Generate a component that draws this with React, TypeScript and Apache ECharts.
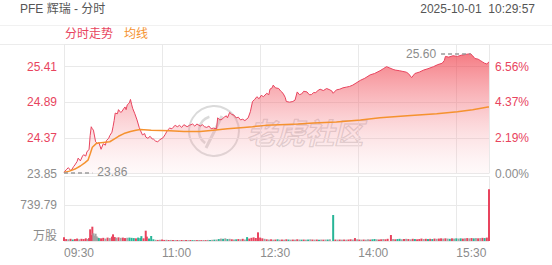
import React, { useEffect, useRef } from "react";
import * as echarts from "echarts";

const TITLE = "PFE 辉瑞 - 分时";
const TIMESTAMP = "2025-10-01  10:29:57";
const LEGEND_NAMES = ["分时走势", "均线"];
const PREV_CLOSE = 23.845;
const PRICE_STEP = 0.5215;
const VOL_STEP = 739.79;

// [minute since 09:30, price]
const priceSeries: [number, number][] = [
  [0, 23.86], [2, 23.9], [4, 23.93], [6, 23.89], [7, 23.9], [9, 23.95], [10, 23.97], [12, 24.02], [13, 24.07],
  [15, 24.03], [17, 24.1], [18, 24.12], [20, 24.1], [21, 24.16], [23, 24.2], [24, 24.4], [25, 24.53], [26, 24.5],
  [27, 24.48], [29, 24.31], [31, 24.28], [32, 24.3], [34, 24.2], [36, 24.28], [38, 24.26], [39, 24.33],
  [41, 24.36], [42, 24.4], [44, 24.45], [45, 24.53], [46, 24.62], [47, 24.73], [49, 24.72], [50, 24.78],
  [52, 24.74], [53, 24.75], [55, 24.8], [56, 24.82], [57, 24.78], [58, 24.85], [60, 24.88], [61, 24.93],
  [62, 24.86], [63, 24.8], [65, 24.72], [67, 24.63], [69, 24.52], [70, 24.48], [72, 24.41], [74, 24.43],
  [75, 24.38], [77, 24.36], [79, 24.39], [81, 24.35], [82, 24.35], [84, 24.32], [86, 24.31], [88, 24.34],
  [91, 24.37], [93, 24.42], [95, 24.48], [97, 24.51], [99, 24.5], [100, 24.52], [102, 24.55], [104, 24.53],
  [106, 24.55], [108, 24.52], [110, 24.56], [113, 24.53], [115, 24.55], [118, 24.57], [120, 24.54],
  [122, 24.57], [125, 24.54], [127, 24.56], [129, 24.53], [131, 24.52], [133, 24.54], [135, 24.5],
  [137, 24.51], [140, 24.5], [141, 24.66], [143, 24.63], [145, 24.64], [147, 24.67], [149, 24.69],
  [150, 24.66], [152, 24.74], [154, 24.71], [156, 24.7], [158, 24.66], [160, 24.67], [162, 24.63],
  [164, 24.64], [166, 24.62], [169, 24.66], [171, 24.75], [173, 24.9], [175, 24.93], [177, 24.97],
  [179, 24.94], [181, 24.99], [183, 24.97], [186, 25.02], [188, 25.0], [189, 25.08], [191, 25.1],
  [192, 25.14], [194, 25.1], [197, 25.09], [199, 25.05], [201, 25.02], [203, 24.96], [204, 24.9],
  [207, 24.89], [210, 24.9], [212, 24.92], [214, 25.04], [216, 25.0], [218, 25.01], [220, 25.05],
  [223, 25.04], [225, 25.0], [227, 25.0], [229, 25.03], [231, 25.03], [233, 25.06], [235, 25.08],
  [238, 25.06], [241, 25.09], [244, 25.07], [246, 25.05], [247, 25.02], [250, 25.07], [253, 25.08],
  [256, 25.1], [259, 25.11], [262, 25.12], [265, 25.14], [268, 25.17], [272, 25.21], [276, 25.24],
  [281, 25.29], [285, 25.31], [290, 25.35], [293, 25.38], [296, 25.41], [299, 25.39], [302, 25.37],
  [304, 25.36], [308, 25.35], [311, 25.34], [314, 25.33], [316, 25.31], [319, 25.25], [322, 25.31],
  [326, 25.33], [330, 25.36], [334, 25.38], [339, 25.41], [343, 25.44], [347, 25.46], [349, 25.5],
  [350, 25.56], [353, 25.55], [357, 25.57], [361, 25.56], [365, 25.58], [369, 25.59], [373, 25.6],
  [375, 25.57], [377, 25.53], [380, 25.52], [382, 25.5], [384, 25.48], [386, 25.46], [388, 25.45],
  [390, 25.48],
];

// [minute since 09:30, average price]
const averageSeries: [number, number][] = [
  [0, 23.86], [5, 23.88], [10, 23.91], [15, 23.955], [19, 24.0], [22, 24.04], [24, 24.13], [26, 24.23],
  [30, 24.29], [36, 24.3], [42, 24.31], [46, 24.35], [50, 24.39], [55, 24.43], [61, 24.46], [66, 24.48],
  [70, 24.49], [80, 24.48], [97, 24.47], [110, 24.46], [125, 24.46], [137, 24.48], [150, 24.5],
  [165, 24.52], [173, 24.53], [185, 24.55], [198, 24.56], [215, 24.57], [229, 24.585], [250, 24.6],
  [272, 24.63], [290, 24.66], [315, 24.69], [342, 24.72], [361, 24.75], [375, 24.78], [389, 24.82],
  [390, 24.82],
];

// [minute since 09:30, volume (万股), direction 1 up / -1 down / 0 flat]
const volumeBars: [number, number, number][] = [
  [0, 75, 1], [2, 40, 1], [4, 35, 0], [6, 45, 1], [8, 30, -1], [10, 40, 1], [12, 50, 1], [14, 35, 0],
  [16, 45, 1], [18, 40, 1], [20, 55, 1], [22, 40, 0], [23, 60, 1], [24, 240, 1], [25, 120, 1], [26, 294, 1],
  [27, 158, 0], [28, 110, 0], [29, 150, 0], [30, 95, 0], [31, 70, 0], [32, 60, -1], [34, 55, 1], [36, 65, 1],
  [38, 50, 0], [40, 70, 1], [42, 60, 0], [44, 90, 1], [45, 137, 1], [46, 80, 1], [47, 75, 1], [48, 65, 0],
  [50, 75, 1], [52, 65, 0], [54, 70, 1], [56, 60, 1], [58, 65, 0], [60, 70, -1], [62, 65, -1], [64, 60, -1],
  [66, 55, 1], [68, 70, -1], [70, 60, -1], [71, 100, -1], [73, 55, 1], [75, 212, 1], [76, 90, 1], [78, 50, -1],
  [80, 103, -1], [82, 35, -1], [84, 25, 0], [86, 22, 1], [88, 25, 0], [90, 30, 1], [92, 22, 1], [94, 25, 0],
  [96, 20, 1], [98, 22, 0], [100, 20, 1], [102, 18, 0], [104, 20, 1], [106, 18, 0], [108, 20, 1],
  [110, 18, 0], [112, 20, 1], [114, 18, 0], [116, 20, 1], [118, 18, -1], [120, 20, 0], [122, 18, 1],
  [124, 20, 0], [126, 18, 1], [128, 20, 0], [130, 18, 1], [132, 22, 0], [134, 20, -1], [136, 25, 0],
  [138, 28, -1], [140, 30, 0], [142, 40, -1], [144, 50, 0], [146, 45, -1], [148, 55, 0], [150, 40, -1],
  [152, 45, 0], [154, 35, 1], [156, 30, 0], [158, 35, -1], [160, 40, 1], [162, 35, 0], [164, 45, 1],
  [166, 30, 0], [168, 80, -1], [170, 50, 1], [172, 65, 1], [174, 75, 1], [176, 60, 1], [178, 178, 1],
  [180, 70, 1], [182, 55, 1], [184, 45, 0], [186, 35, 1], [188, 30, 0], [190, 35, 1], [192, 28, 0],
  [194, 30, 1], [196, 35, -1], [198, 28, 0], [200, 30, 1], [202, 28, 0], [204, 35, 1], [206, 30, -1],
  [208, 28, 0], [210, 30, 1], [212, 28, 0], [214, 35, 1], [216, 30, 0], [218, 28, -1], [220, 30, 1],
  [222, 28, 0], [224, 30, -1], [226, 35, 0], [228, 30, 1], [230, 28, 0], [232, 30, 1], [234, 28, -1],
  [236, 30, 0], [238, 28, 1], [240, 30, 0], [242, 30, -1], [244, 35, 0], [247, 534, -1], [249, 30, 1],
  [251, 28, 0], [253, 30, 1], [255, 28, 0], [257, 30, 1], [259, 28, 0], [261, 30, 1], [263, 35, 1],
  [265, 30, 0], [267, 60, 1], [269, 35, 0], [271, 30, 1], [273, 28, 0], [275, 30, 1], [277, 28, 0],
  [279, 35, 0], [281, 30, 1], [283, 35, -1], [285, 40, -1], [287, 35, 0], [289, 30, 1], [291, 35, 1],
  [293, 40, 0], [295, 35, 1], [297, 45, 1], [300, 123, 1], [302, 40, 0], [304, 35, 1], [306, 40, -1],
  [308, 45, -1], [310, 35, 0], [312, 40, 1], [314, 45, 0], [316, 40, 1], [318, 35, 0], [320, 45, 1],
  [322, 40, -1], [324, 35, 1], [326, 40, 1], [328, 50, 1], [330, 40, 0], [332, 45, 1], [334, 40, -1],
  [336, 45, 1], [338, 40, -1], [340, 50, 1], [342, 45, 0], [344, 50, 1], [346, 55, 1], [348, 50, 0],
  [350, 55, 1], [352, 50, 0], [354, 45, -1], [356, 55, 1], [358, 50, 0], [360, 55, -1], [362, 50, 0],
  [364, 55, -1], [366, 50, 1], [368, 55, 0], [370, 60, 1], [372, 55, 0], [374, 60, 1], [376, 55, -1],
  [378, 60, 0], [380, 55, 1], [382, 60, 0], [384, 65, 1], [386, 60, -1], [388, 70, 1], [390, 1062, 1],
];

const RED = "#e8445e";
const ORANGE = "#f5922f";
const GREEN = "#28b597";
const GRAY_BAR = "#a3a3a3";
const LABEL_GRAY = "#8c8c8c";
const GRID_LINE = "#e9e9e9";
const FONT = "'Liberation Sans', Arial, 'Noto Sans CJK SC', sans-serif";

function minuteToTime(m: number): string {
  const total = 9 * 60 + 30 + m;
  const h = Math.floor(total / 60);
  const mm = total % 60;
  return `${String(h).padStart(2, "0")}:${String(mm).padStart(2, "0")}`;
}

export default function App() {
  const ref = useRef<HTMLDivElement>(null);

  useEffect(() => {
    if (!ref.current) return;
    const chart = echarts.init(ref.current, undefined, { renderer: "svg" });

    const priceData = priceSeries.map(([m, p]) => [m, p - PREV_CLOSE]);
    const avgData = averageSeries.map(([m, p]) => [m, p - PREV_CLOSE]);

    let hi = priceSeries[0];
    let lo = priceSeries[0];
    priceSeries.forEach((pt) => {
      if (pt[1] > hi[1]) hi = pt;
      if (pt[1] < lo[1]) lo = pt;
    });

    const dashStyle = { color: "#9a9a9a", type: [4, 3] as any, width: 1.6 };
    const isZero = (v: any) => Math.abs(Number(v)) < 1e-6;

    const option: any = {
      animation: false,
      textStyle: { fontFamily: FONT },
      grid: [
        { left: 64, right: 63, top: 44, height: 129.5 },
        { left: 64, right: 63, top: 176, height: 65 },
      ],
      xAxis: [
        {
          type: "value", gridIndex: 0, min: 0, max: 390, interval: 90,
          axisLabel: { show: false }, axisTick: { show: false }, axisLine: { show: false },
          splitLine: { show: true, lineStyle: { color: GRID_LINE, width: 1 } },
        },
        {
          type: "value", gridIndex: 1, min: 0, max: 390, interval: 90,
          axisTick: { show: false }, axisLine: { show: false },
          splitLine: { show: true, lineStyle: { color: GRID_LINE, width: 1 } },
          axisLabel: {
            show: true, align: "left", color: LABEL_GRAY, fontSize: 12, margin: 6,
            fontFamily: FONT, showMaxLabel: false,
            formatter: (v: number) => minuteToTime(v),
          },
        },
      ],
      yAxis: [
        {
          type: "value", gridIndex: 0, min: 0, max: 1.897, interval: PRICE_STEP,
          axisTick: { show: false }, axisLine: { show: false },
          splitLine: { show: true, lineStyle: { color: GRID_LINE, width: 1 } },
          axisLabel: {
            showMinLabel: true, showMaxLabel: false, fontSize: 12, margin: 7, fontFamily: FONT,
            formatter: (v: number) => (PREV_CLOSE + v + 1e-7).toFixed(2),
            color: (v: any) => (isZero(v) ? LABEL_GRAY : RED),
          },
        },
        {
          type: "value", gridIndex: 0, position: "right", min: 0, max: 1.897, interval: PRICE_STEP,
          axisTick: { show: false }, axisLine: { show: false }, splitLine: { show: false },
          axisLabel: {
            showMinLabel: true, showMaxLabel: false, fontSize: 12, margin: 6, fontFamily: FONT,
            formatter: (v: number) => ((v / PREV_CLOSE) * 100 + 1e-7).toFixed(2) + "%",
            color: (v: any) => (isZero(v) ? LABEL_GRAY : RED),
          },
        },
        {
          type: "value", gridIndex: 1, min: 0, max: 1336, interval: VOL_STEP,
          axisTick: { show: false }, axisLine: { show: false },
          splitLine: { show: true, lineStyle: { color: GRID_LINE, width: 1 } },
          axisLabel: {
            showMaxLabel: false, fontSize: 12, margin: 7, color: LABEL_GRAY, fontFamily: FONT,
            formatter: (v: number) => (v === 0 ? "{u|万股}" : v.toFixed(2)),
            rich: { u: { fontSize: 12, color: LABEL_GRAY, fontFamily: FONT, padding: [0, 0, 10, 0] } },
          },
        },
      ],
      series: [
        {
          name: LEGEND_NAMES[0], type: "line", xAxisIndex: 0, yAxisIndex: 0,
          data: priceData, showSymbol: false, symbol: "none", z: 3,
          lineStyle: { color: RED, width: 1 },
          areaStyle: {
            color: new echarts.graphic.LinearGradient(0, 0, 0, 1, [
              { offset: 0, color: "rgba(240,58,70,0.95)" },
              { offset: 0.4, color: "rgba(243,105,115,0.62)" },
              { offset: 1, color: "rgba(251,210,214,0.18)" },
            ]),
          },
          markLine: {
            silent: true, symbol: ["none", "none"], animation: false,
            lineStyle: dashStyle,
            data: [
              [
                { coord: [lo[0], lo[1] - PREV_CLOSE], lineStyle: dashStyle,
                  label: { show: true, position: "end", formatter: lo[1].toFixed(2), color: LABEL_GRAY, fontSize: 12, distance: 5, fontFamily: FONT } },
                { coord: [lo[0] + 26, lo[1] - PREV_CLOSE] },
              ],
              [
                { coord: [hi[0] - 27, hi[1] - PREV_CLOSE], lineStyle: dashStyle,
                  label: { show: true, position: "start", formatter: hi[1].toFixed(2), color: LABEL_GRAY, fontSize: 12, distance: 5, fontFamily: FONT } },
                { coord: [hi[0], hi[1] - PREV_CLOSE] },
              ],
            ],
          },
        },
        {
          name: LEGEND_NAMES[1], type: "line", xAxisIndex: 0, yAxisIndex: 0,
          data: avgData, showSymbol: false, symbol: "none", z: 4,
          lineStyle: { color: ORANGE, width: 1.5 },
        },
        {
          type: "bar", xAxisIndex: 1, yAxisIndex: 2, barWidth: 2,
          data: volumeBars.map(([m, v, d]) => ({
            value: [m, v],
            itemStyle: { color: d > 0 ? RED : d < 0 ? GREEN : GRAY_BAR },
          })),
        },
      ],
      graphic: [
        { type: "line", shape: { x1: 0, y1: 25.5, x2: 552, y2: 25.5 }, style: { stroke: "#f1f1f1", lineWidth: 1 }, silent: true },
        { type: "line", shape: { x1: 0, y1: 44.5, x2: 552, y2: 44.5 }, style: { stroke: "#ececec", lineWidth: 1 }, silent: true },
        { type: "text", left: 20, top: 3, style: { text: TITLE, fill: "#555", font: `12px ${FONT}` } },
        { type: "text", right: 17, top: 3, style: { text: TIMESTAMP, fill: "#555", font: `12px ${FONT}`, textAlign: "right" } },
        { type: "text", left: 65, top: 28, style: { text: LEGEND_NAMES[0], fill: RED, font: `12px ${FONT}` } },
        { type: "text", left: 124, top: 28, style: { text: LEGEND_NAMES[1], fill: ORANGE, font: `12px ${FONT}` } },
        {
          type: "group", silent: true, z: 100,
          children: [
            { type: "circle", shape: { cx: 214, cy: 131, r: 25 }, style: { fill: "none", stroke: "rgba(150,150,150,0.35)", lineWidth: 2 } },
            { type: "arc", shape: { cx: 214, cy: 131, r: 15, startAngle: 2.2, endAngle: 4.4 }, style: { fill: "none", stroke: "rgba(150,150,150,0.35)", lineWidth: 2.5 } },
            { type: "line", shape: { x1: 222, y1: 116, x2: 206, y2: 148 }, style: { stroke: "rgba(150,150,150,0.35)", lineWidth: 3 } },
            { type: "text", x: 247, y: 131, style: { text: "老虎社区", font: `italic bold 29px 'Noto Sans CJK SC', sans-serif`, fill: "rgba(255,255,255,0.3)", stroke: "rgba(140,140,140,0.4)", lineWidth: 1.2, textVerticalAlign: "middle" } },
          ],
        },
      ],
    };

    chart.setOption(option);
    return () => chart.dispose();
  }, []);

  return <div ref={ref} style={{ position: "fixed", left: 0, top: 0, width: 552, height: 265, background: "#fff" }} />;
}
